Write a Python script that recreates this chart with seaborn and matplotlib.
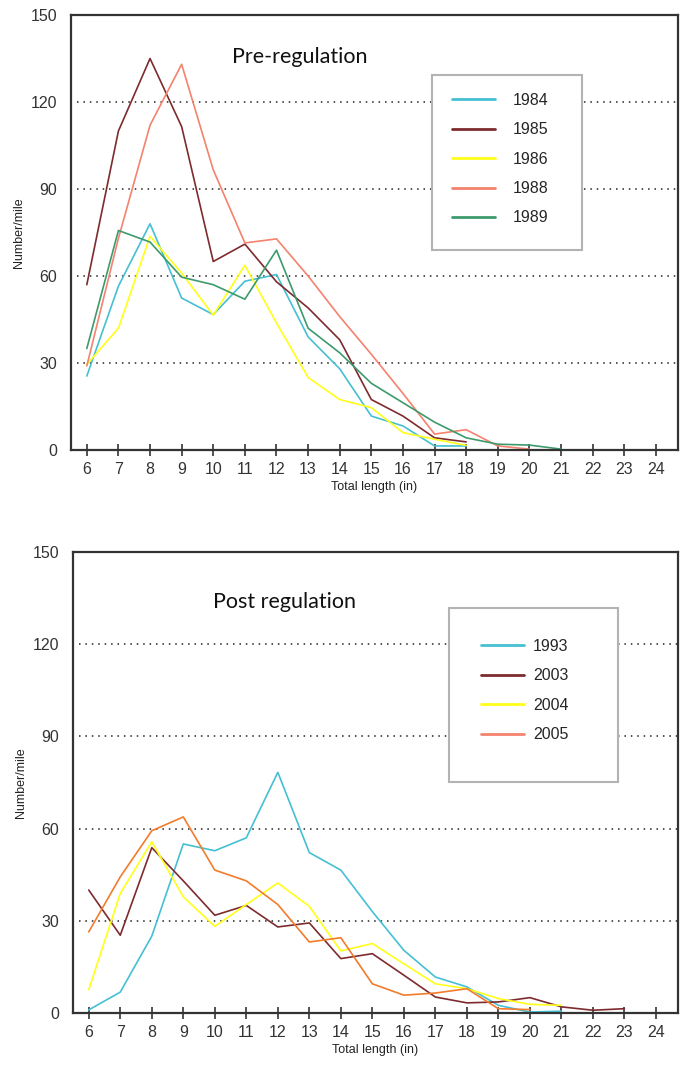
import numpy as np
import pandas as pd
import matplotlib
matplotlib.use("Agg")
import matplotlib.pyplot as plt
from matplotlib.patches import Rectangle
import seaborn as sns

# ---------------- data ----------------
length_in = list(range(6, 25))

pre_years = ["1984", "1985", "1986", "1988", "1989"]
pre_1984 = [25.5, 56.5, 78, 52.4, 46.7, 58.2, 60.5, 39, 28, 11.7, 8.3, 1.4, 1.4]
pre_1985 = [57, 110, 135, 111.5, 65, 71, 58, 49, 38, 17.4, 11.7, 4.2, 2.8]
pre_1986 = [29.5, 42, 73.7, 61, 46.5, 63.7, 43.8, 25, 17.4, 14.6, 6, 3.7, 1.6]
pre_1988 = [29, 73, 112, 133, 96.6, 71.4, 72.8, 60, 46, 33, 19.5, 5.5, 7, 1.4, 0.3]
pre_1989 = [35, 75.7, 71.7, 59.6, 57, 52, 68.9, 42, 33.5, 23, 16.3, 9.6, 4.2, 2, 1.7, 0.3]

post_years = ["1993", "2003", "2004", "2005"]
post_1993 = [1, 6.8, 25, 55, 52.8, 57, 78.3, 52.2, 46.5, 33, 20.4, 11.7, 8.5, 2.5, 0.3, 0.6]
post_2003 = [40, 25.3, 53.8, 43, 31.8, 35, 28, 29.3, 17.7, 19.3, 12.3, 5.2, 3.3, 3.6, 5, 2, 0.9, 1.4]
post_2004 = [7.6, 38.9, 55.7, 37.8, 28.2, 35.3, 42.3, 34.7, 20.2, 22.6, 16, 9.5, 7.9, 4.7, 2.8, 2.5]
post_2005 = [26.4, 44.3, 59.3, 63.8, 46.5, 43, 35.3, 23.1, 24.5, 9.5, 5.8, 6.5, 7.9, 1.4, 1.1]

y_ticks = [0, 30, 60, 90, 120, 150]

pre_colors = {"1984": "#45c0d3", "1985": "#7d2b2e", "1986": "#ffff1a",
              "1988": "#f4826e", "1989": "#3d9a6c"}
post_colors = {"1993": "#45c0d3", "2003": "#7d2b2e", "2004": "#ffff1a",
               "2005": "#f27b2c"}
post_legend_colors = {"1993": "#45c0d3", "2003": "#7d2b2e", "2004": "#ffff1a",
                      "2005": "#f4826e"}


def long_df(years, series):
    rows = []
    for yr, vals in zip(years, series):
        for x, v in zip(length_in, vals):
            rows.append({"length": x, "value": v, "year": yr})
    return pd.DataFrame(rows)


pre_df = long_df(pre_years, [pre_1984, pre_1985, pre_1986, pre_1988, pre_1989])
post_df = long_df(post_years, [post_1993, post_2003, post_2004, post_2005])

# ---------------- figure ----------------
sns.set_theme(style="white")
plt.rcParams["font.family"] = ["Liberation Sans", "DejaVu Sans"]

W, H = 686, 1074
fig = plt.figure(figsize=(W / 100, H / 100), dpi=100)


def px_axes(l, t, r, b):
    return fig.add_axes([l / W, 1 - b / H, (r - l) / W, (b - t) / H])


ax1 = px_axes(71, 15, 678, 450)
ax2 = px_axes(73, 552, 678, 1013)


def style(ax, df, colors, leg_colors, title, title_xy, box, leg_anchor,
          handletextpad):
    sns.lineplot(data=df, x="length", y="value", hue="year", palette=colors,
                 hue_order=list(colors.keys()), ax=ax, linewidth=1.2,
                 legend=True, estimator=None, sort=False)
    ax.set_xlim(5.5, 24.7)
    ax.set_ylim(0, 150)
    ax.set_xticks(length_in)
    ax.set_yticks(y_ticks)
    ax.tick_params(axis="x", direction="inout", length=9, width=1.2,
                   color="#333333", labelsize=11.5, pad=4, bottom=True)
    ax.tick_params(axis="y", length=0, labelsize=11.5, pad=10, left=False)
    for lab in ax.get_xticklabels() + ax.get_yticklabels():
        lab.set_color("#333333")
    for s in ax.spines.values():
        s.set_color("#333333")
        s.set_linewidth(1.6)
    ax.grid(False)
    for yv in y_ticks[1:-1]:
        ax.axhline(yv, xmin=0.01, xmax=1, color="#222222", linestyle=(0, (1, 3.2)),
                   linewidth=1.1, zorder=0)
    ax.set_xlabel("Total length (in)", fontsize=9, color="#222222", labelpad=3)
    ax.set_ylabel("Number/mile", fontsize=9, color="#222222", labelpad=4)
    ax.text(title_xy[0], title_xy[1], title, transform=ax.transAxes,
            fontsize=15.5, family=["Lato", "DejaVu Sans"], va="center",
            ha="left", color="#111111")
    handles, labels = ax.get_legend_handles_labels()
    for h, l in zip(handles, labels):
        h.set_color(leg_colors[l])
        h.set_linewidth(2)
    leg = ax.legend(handles, labels, loc="upper left", bbox_to_anchor=leg_anchor,
                    frameon=False, fontsize=11.5, handlelength=2.7,
                    handletextpad=handletextpad, labelspacing=0.9, borderpad=0,
                    borderaxespad=0)
    leg.set_zorder(10)
    ax.add_patch(Rectangle((box[0], box[1]), box[2], box[3],
                           transform=ax.transAxes, facecolor="white",
                           edgecolor="#b3b3b3", linewidth=1.5, zorder=4))


def to_ax(l, t, r, b, al, at, ar, ab):
    x0 = (l - al) / (ar - al)
    x1 = (r - al) / (ar - al)
    y1 = 1 - (t - at) / (ab - at)
    y0 = 1 - (b - at) / (ab - at)
    return (x0, y0, x1 - x0, y1 - y0)


box1 = to_ax(432, 75, 582, 250, 71, 15, 678, 450)
anc1 = ((452 - 71) / 607, 1 - (93 - 15) / 435)
style(ax1, pre_df, pre_colors, pre_colors, "Pre-regulation",
      ((232 - 71) / 607, 1 - (57 - 15) / 435), box1, anc1, 1.1)

box2 = to_ax(449, 608, 618, 782, 73, 552, 678, 1013)
anc2 = ((481 - 73) / 605, 1 - (639 - 552) / 461)
style(ax2, post_df, post_colors, post_legend_colors, "Post regulation",
      ((213 - 73) / 605, 1 - (602 - 552) / 461), box2, anc2, 0.55)

fig.savefig("out.png", dpi=100, facecolor="white")
